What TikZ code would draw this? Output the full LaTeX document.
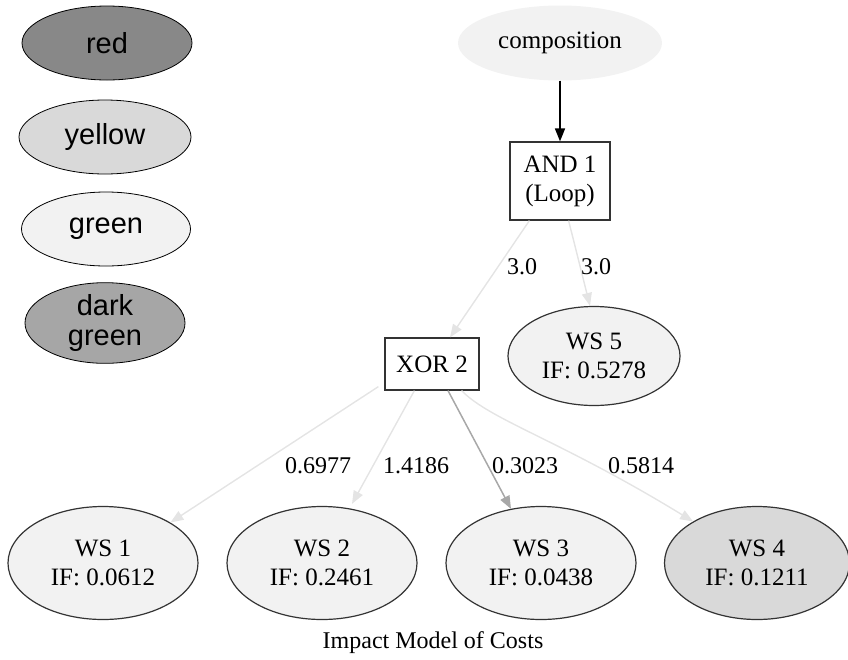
\documentclass[tikz,border=0pt]{standalone}
\usepackage{fontspec}
\setmainfont{Liberation Serif}
\newfontfamily\legendfont{Liberation Sans}
\usetikzlibrary{shapes.geometric,arrows.meta}
\definecolor{swred}{HTML}{888888}
\definecolor{swyellow}{HTML}{D9D9D9}
\definecolor{swgreen}{HTML}{F2F2F2}
\definecolor{swdark}{HTML}{A6A6A6}
\definecolor{edgelight}{HTML}{E4E4E4}
\definecolor{edgemid}{HTML}{A8A8A8}
\definecolor{border}{HTML}{333333}
\tikzset{
  legend/.style={ellipse, draw=black, line width=0.8pt, inner sep=0pt,
    minimum width=170pt, minimum height=74pt, align=center,
    font=\legendfont\fontsize{29}{31}\selectfont},
  gnode/.style={font=\fontsize{25}{29}\selectfont, align=center},
  wsnode/.style={gnode, ellipse, draw=border, line width=1.2pt, inner sep=0pt,
    minimum width=190pt, minimum height=113pt},
  opbox/.style={gnode, rectangle, draw=border, line width=1.2pt, inner sep=0pt},
  tip/.style={-{Triangle[length=13pt,width=10pt]}},
  lightedge/.style={tip, draw=edgelight, line width=1.4pt},
  elabel/.style={font=\fontsize{24}{28}\selectfont}
}
\begin{document}
\begin{tikzpicture}[x=1pt,y=-1pt]
\useasboundingbox (0,0) rectangle (848,659);

% colour legend
\node[legend, fill=swred]    (lred)    at (107,43)  {red};
\node[legend, fill=swyellow, minimum width=172pt] (lyellow) at (105,137) {yellow};
\node[legend, fill=swgreen, minimum width=169pt]  (lgreen)  at (106,229) {green};
\node[legend, fill=swdark, minimum width=160pt, minimum height=70pt] (ldark) at (105,323) {dark\\[-1pt]green};

% composition tree
\node[gnode, ellipse, fill=swgreen, inner sep=0pt, minimum width=204pt, minimum height=75pt] (comp) at (560,43) {composition};
\node[opbox, minimum width=100pt, minimum height=78pt] (and1) at (560,181) {AND 1\\(Loop)};
\node[opbox, minimum width=94pt, minimum height=52pt] (xor2) at (432,364) {XOR 2};
\node[wsnode, fill=swgreen, minimum width=172pt, minimum height=99pt] (ws5) at (594,356) {WS 5\\IF: 0.5278};

\node[wsnode, fill=swgreen] (ws1) at (103,563) {WS 1\\IF: 0.0612};
\node[wsnode, fill=swgreen] (ws2) at (322,563) {WS 2\\IF: 0.2461};
\node[wsnode, fill=swgreen] (ws3) at (541,563) {WS 3\\IF: 0.0438};
\node[wsnode, fill=swyellow, minimum width=185pt] (ws4) at (757,563) {WS 4\\IF: 0.1211};

% connectors
\draw[tip, draw=black, line width=1.5pt] (comp.south) -- (and1.north);
\draw[lightedge] ([xshift=20pt]and1.south west) -- ([xshift=18pt]xor2.north);
\draw[lightedge] ([xshift=-42pt]and1.south east) -- ([xshift=-4pt]ws5.north);

\draw[lightedge] ([xshift=-6pt,yshift=4pt]xor2.south west) -- (ws1.31);
\draw[lightedge] ([xshift=30pt]xor2.south west) -- ([xshift=30pt,yshift=2pt]ws2.north);
\draw[tip, draw=edgemid, line width=1.5pt] ([xshift=16pt]xor2.south) -- ([xshift=-30pt,yshift=-3pt]ws3.north);
\draw[lightedge] ([xshift=-18pt]xor2.south east) .. controls (490,420) and (560,440) .. (ws4.147);

% edge weights
\node[elabel] (l30a) at (522,267) {3.0};
\node[elabel] (l30b) at (596,267) {3.0};
\node[elabel] (w1) at (318,466) {0.6977};
\node[elabel] (w2) at (416,466) {1.4186};
\node[elabel] (w3) at (525,466) {0.3023};
\node[elabel] (w4) at (641,466) {0.5814};

\node[elabel] (caption) at (433,643) {Impact Model of Costs};
\end{tikzpicture}
\end{document}
